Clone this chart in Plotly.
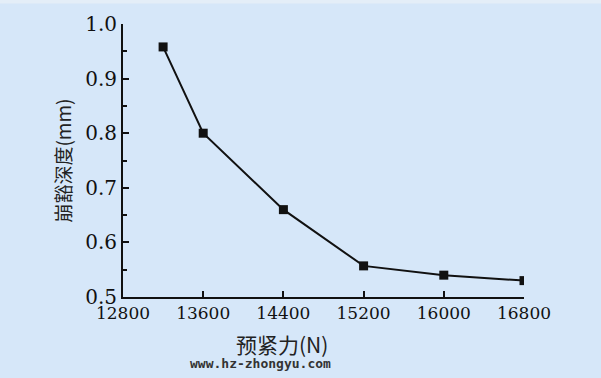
import plotly.graph_objects as go

force = [13200, 13600, 14400, 15200, 16000, 16800]
depth = [0.958, 0.800, 0.660, 0.557, 0.540, 0.530]
x_ticks = [12800, 13600, 14400, 15200, 16000, 16800]
x_tick_text = ["12800", "13600", "14400", "15200", "16000", "16800"]
y_ticks = [0.5, 0.6, 0.7, 0.8, 0.9, 1.0]
y_tick_text = ["0.5", "0.6", "0.7", "0.8", "0.9", "1.0"]
x_title = "预紧力(N)"
y_title = "崩豁深度(mm)"
watermark = "www.hz-zhongyu.com"

bg = "#d6e7f9"
ink = "#111111"
serif = "DejaVu Serif"
cjk = "Noto Sans CJK SC"

fig = go.Figure()
fig.add_trace(go.Scatter(
    x=force, y=depth, mode="lines+markers",
    line=dict(color=ink, width=2),
    marker=dict(symbol="square", size=9, color=ink),
    showlegend=False, hoverinfo="skip"))

fig.update_layout(
    width=601, height=378,
    margin=dict(l=123, r=77, t=24, b=81),
    paper_bgcolor=bg, plot_bgcolor=bg,
    xaxis=dict(
        range=[12800, 16800], tickvals=x_ticks, ticktext=x_tick_text,
        ticks="inside", ticklen=6, tickwidth=2, tickcolor=ink,
        showline=True, linewidth=2, linecolor=ink,
        showgrid=False, zeroline=False,
        tickfont=dict(family=serif, size=17, color=ink),
    ),
    yaxis=dict(
        range=[0.5, 1.0], tickvals=y_ticks, ticktext=y_tick_text,
        ticks="inside", ticklen=6, tickwidth=2, tickcolor=ink,
        minor=dict(ticks="inside", ticklen=4, tickwidth=2, tickcolor=ink, dtick=0.05, showgrid=False),
        showline=True, linewidth=2, linecolor=ink,
        showgrid=False, zeroline=False,
        tickfont=dict(family=serif, size=20, color=ink),
    ),
    annotations=[
        dict(text=y_title, xref="paper", yref="paper", x=-0.152, y=0.5,
             xanchor="center", yanchor="middle", textangle=-90, showarrow=False,
             font=dict(family=cjk, size=19, color="#222222")),
        dict(text=x_title, xref="paper", yref="paper", x=0.397, y=-0.172,
             xanchor="center", yanchor="middle", showarrow=False,
             font=dict(family=cjk, size=21, color="#222222")),
        dict(text=watermark, xref="paper", yref="paper", x=0.342, y=-0.245,
             xanchor="center", yanchor="middle", showarrow=False,
             font=dict(family="DejaVu Sans Mono", size=13, color="#333333", weight="bold")),
    ],
)
fig.add_shape(type="rect", xref="paper", yref="paper", x0=-0.4, x1=1.3, y0=1.075, y1=1.2,
              line=dict(width=0), fillcolor="#e4eef8", layer="below")

fig.write_html("out.html", config={"displayModeBar": False},
               post_script="document.body.style.margin='0';")
